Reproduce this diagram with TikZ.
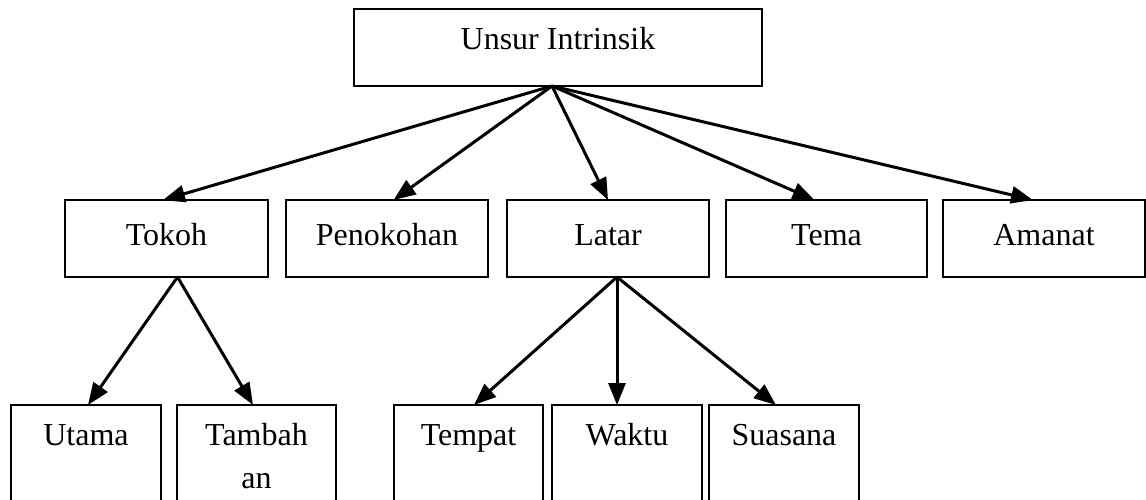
\documentclass[tikz,border=0pt]{standalone}
\usepackage{fontspec}
\setmainfont{Liberation Serif}
\usetikzlibrary{arrows.meta}
\begin{document}
\begin{tikzpicture}[x=1pt,y=-1pt,
  box/.style={draw, line width=1.8pt, inner xsep=0pt, inner ysep=0pt, outer sep=0pt,
    anchor=north, font=\fontsize{32}{43}\selectfont},
  mid/.style={text height=45pt, text depth=32pt},
  low/.style={text height=40pt, text depth=140pt},
  conn/.style={line width=3pt, -{Triangle[length=22pt,width=17pt]}}]
\useasboundingbox (0,0) rectangle (1146,500);
\clip (0,0) rectangle (1146,500);
\node[box, minimum width=408pt, text height=41pt, text depth=36pt] (unsur) at (558,9) {Unsur Intrinsik};
\node[box,mid,minimum width=203pt] (tokoh) at (166.5,200) {Tokoh};
\node[box,mid,minimum width=202pt] (penokohan) at (387,200) {Penokohan};
\node[box,mid,minimum width=202pt] (latar) at (608,200) {Latar};
\node[box,mid,minimum width=201pt] (tema) at (826.5,200) {Tema};
\node[box,mid,minimum width=202pt] (amanat) at (1044,200) {Amanat};
\node[box,low,minimum width=150pt] (utama) at (86,405) {Utama};
\node[box,low,minimum width=159pt] (tambahan) at (256.5,405) {\begin{tabular}[t]{@{}c@{}}Tambah\\an\end{tabular}};
\node[box,low,minimum width=149pt] (tempat) at (468.5,405) {Tempat};
\node[box,low,minimum width=150pt] (waktu) at (627,405) {Waktu};
\node[box,low,minimum width=150pt] (suasana) at (784,405) {Suasana};
\draw[conn] ([xshift=-6pt]unsur.south) -- ([xshift=-3.5pt]tokoh.north);
\draw[conn] ([xshift=-6pt]unsur.south) -- ([xshift=6.6pt]penokohan.north);
\draw[conn] ([xshift=-6pt]unsur.south) -- (latar.north);
\draw[conn] ([xshift=-6pt]unsur.south) -- ([xshift=-12pt]tema.north);
\draw[conn] ([xshift=-6pt]unsur.south) -- ([xshift=-11pt]amanat.north);
\draw[conn] ([xshift=11pt]tokoh.south) -- ([xshift=2pt]utama.north);
\draw[conn] ([xshift=11pt]tokoh.south) -- ([xshift=-3.5pt]tambahan.north);
\draw[conn] ([xshift=9pt]latar.south) -- ([xshift=5.5pt]tempat.north);
\draw[conn] ([xshift=9pt]latar.south) -- ([xshift=-10pt]waktu.north);
\draw[conn] ([xshift=9pt]latar.south) -- ([xshift=-8pt]suasana.north);
\end{tikzpicture}
\end{document}
